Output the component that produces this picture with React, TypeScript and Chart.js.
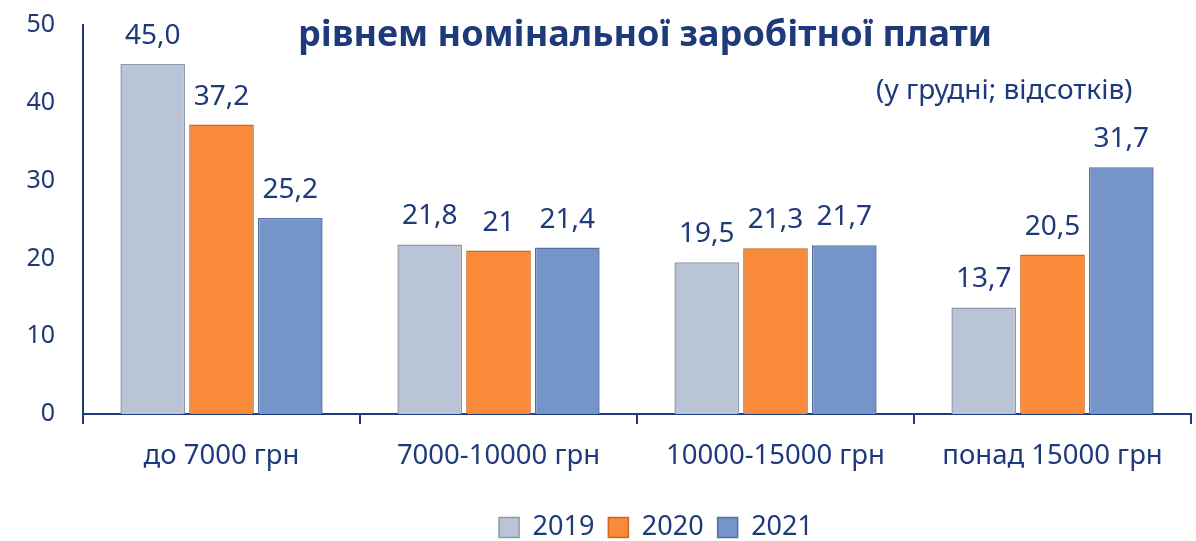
import React, { useEffect, useRef } from "react";
import { Chart, registerables } from "chart.js";

Chart.register(...registerables);

const categories = ["до 7000 грн", "7000-10000 грн", "10000-15000 грн", "понад 15000 грн"];
const series2019 = [45.0, 21.8, 19.5, 13.7];
const series2020 = [37.2, 21, 21.3, 20.5];
const series2021 = [25.2, 21.4, 21.7, 31.7];
const labels2019 = ["45,0", "21,8", "19,5", "13,7"];
const labels2020 = ["37,2", "21", "21,3", "20,5"];
const labels2021 = ["25,2", "21,4", "21,7", "31,7"];
const yTicks = [0, 10, 20, 30, 40, 50];
const titleText = "рівнем номінальної заробітної плати";
const subtitleText = "(у грудні; відсотків)";

const NAVY = "#1F3A7A";
const FONT = "'Noto Sans', 'DejaVu Sans', sans-serif";

const valueLabels = {
  id: "valueLabels",
  afterDatasetsDraw(chart: any) {
    const ctx = chart.ctx;
    ctx.save();
    ctx.font = `28px ${FONT}`;
    ctx.fillStyle = NAVY;
    ctx.textAlign = "center";
    ctx.textBaseline = "alphabetic";
    chart.data.datasets.forEach((ds: any, di: number) => {
      const meta = chart.getDatasetMeta(di);
      meta.data.forEach((bar: any, i: number) => {
        ctx.fillText(ds.valueLabels[i], bar.x, bar.y - 20);
      });
    });
    ctx.restore();
  },
};

const legendShift = {
  id: "legendShift",
  afterLayout(chart: any) {
    const lg = chart.legend;
    if (lg) {
      lg.left += 19;
      lg.right += 19;
    }
  },
};

export default function App() {
  const ref = useRef<HTMLCanvasElement | null>(null);
  useEffect(() => {
    if (!ref.current) return;
    const chart = new Chart(ref.current, {
      type: "bar",
      data: {
        labels: categories,
        datasets: [
          { label: "2019", data: series2019, valueLabels: labels2019, backgroundColor: "#B9C4D6", borderColor: "#8E98AA", borderWidth: 1.5 } as any,
          { label: "2020", data: series2020, valueLabels: labels2020, backgroundColor: "#F98A3A", borderColor: "#C9681F", borderWidth: 1.5 } as any,
          { label: "2021", data: series2021, valueLabels: labels2021, backgroundColor: "#7594C9", borderColor: "#56709F", borderWidth: 1.5 } as any,
        ],
      },
      options: {
        animation: false,
        responsive: false,
        maintainAspectRatio: false,
        layout: { padding: { top: 25, right: 5, left: 0, bottom: -10 } },
        datasets: { bar: { categoryPercentage: 0.745, barPercentage: 0.94 } },
        plugins: {
          legend: {
            position: "bottom",
            fullSize: false,
            labels: {
              color: NAVY,
              font: { family: FONT, size: 27 },
              boxWidth: 20,
              boxHeight: 20,
              padding: 14,
            },
          },
          tooltip: { enabled: false },
          title: { display: false },
        },
        scales: {
          x: {
            border: { color: NAVY, width: 2 },
            grid: { display: true, drawOnChartArea: false, drawTicks: true, tickLength: 10, color: NAVY, lineWidth: 2, offset: true },
            ticks: { color: NAVY, font: { family: FONT, size: 27.5 }, padding: 16, maxRotation: 0 },
            afterFit: (s: any) => { s.height = 86; },
          },
          y: {
            min: 0,
            max: 50,
            afterBuildTicks: (s: any) => { s.ticks = yTicks.map((v) => ({ value: v })); },
            border: { color: NAVY, width: 2 },
            grid: { display: false, drawTicks: false },
            ticks: { color: NAVY, font: { family: FONT, size: 25 }, padding: 28 },
            afterFit: (s: any) => { s.width = 83; s.paddingTop = 0; s.paddingBottom = 0; },
          },
        },
      },
      plugins: [valueLabels, legendShift],
    });
    return () => chart.destroy();
  }, []);

  return (
    <div style={{ position: "absolute", left: 0, top: 0, width: 1196, height: 541, background: "#fff" }}>
      <canvas ref={ref} width={1196} height={541} style={{ position: "absolute", left: 0, top: 0 }} />
      <div style={{ position: "absolute", left: 0, width: 1290, top: 11, textAlign: "center", fontFamily: FONT, fontWeight: 700, fontSize: 36, lineHeight: "44px", color: NAVY, whiteSpace: "nowrap" }}>
        {titleText}
      </div>
      <div style={{ position: "absolute", left: 876, top: 70, fontFamily: FONT, fontSize: 28, lineHeight: "36px", color: NAVY, whiteSpace: "nowrap" }}>
        {subtitleText}
      </div>
    </div>
  );
}
